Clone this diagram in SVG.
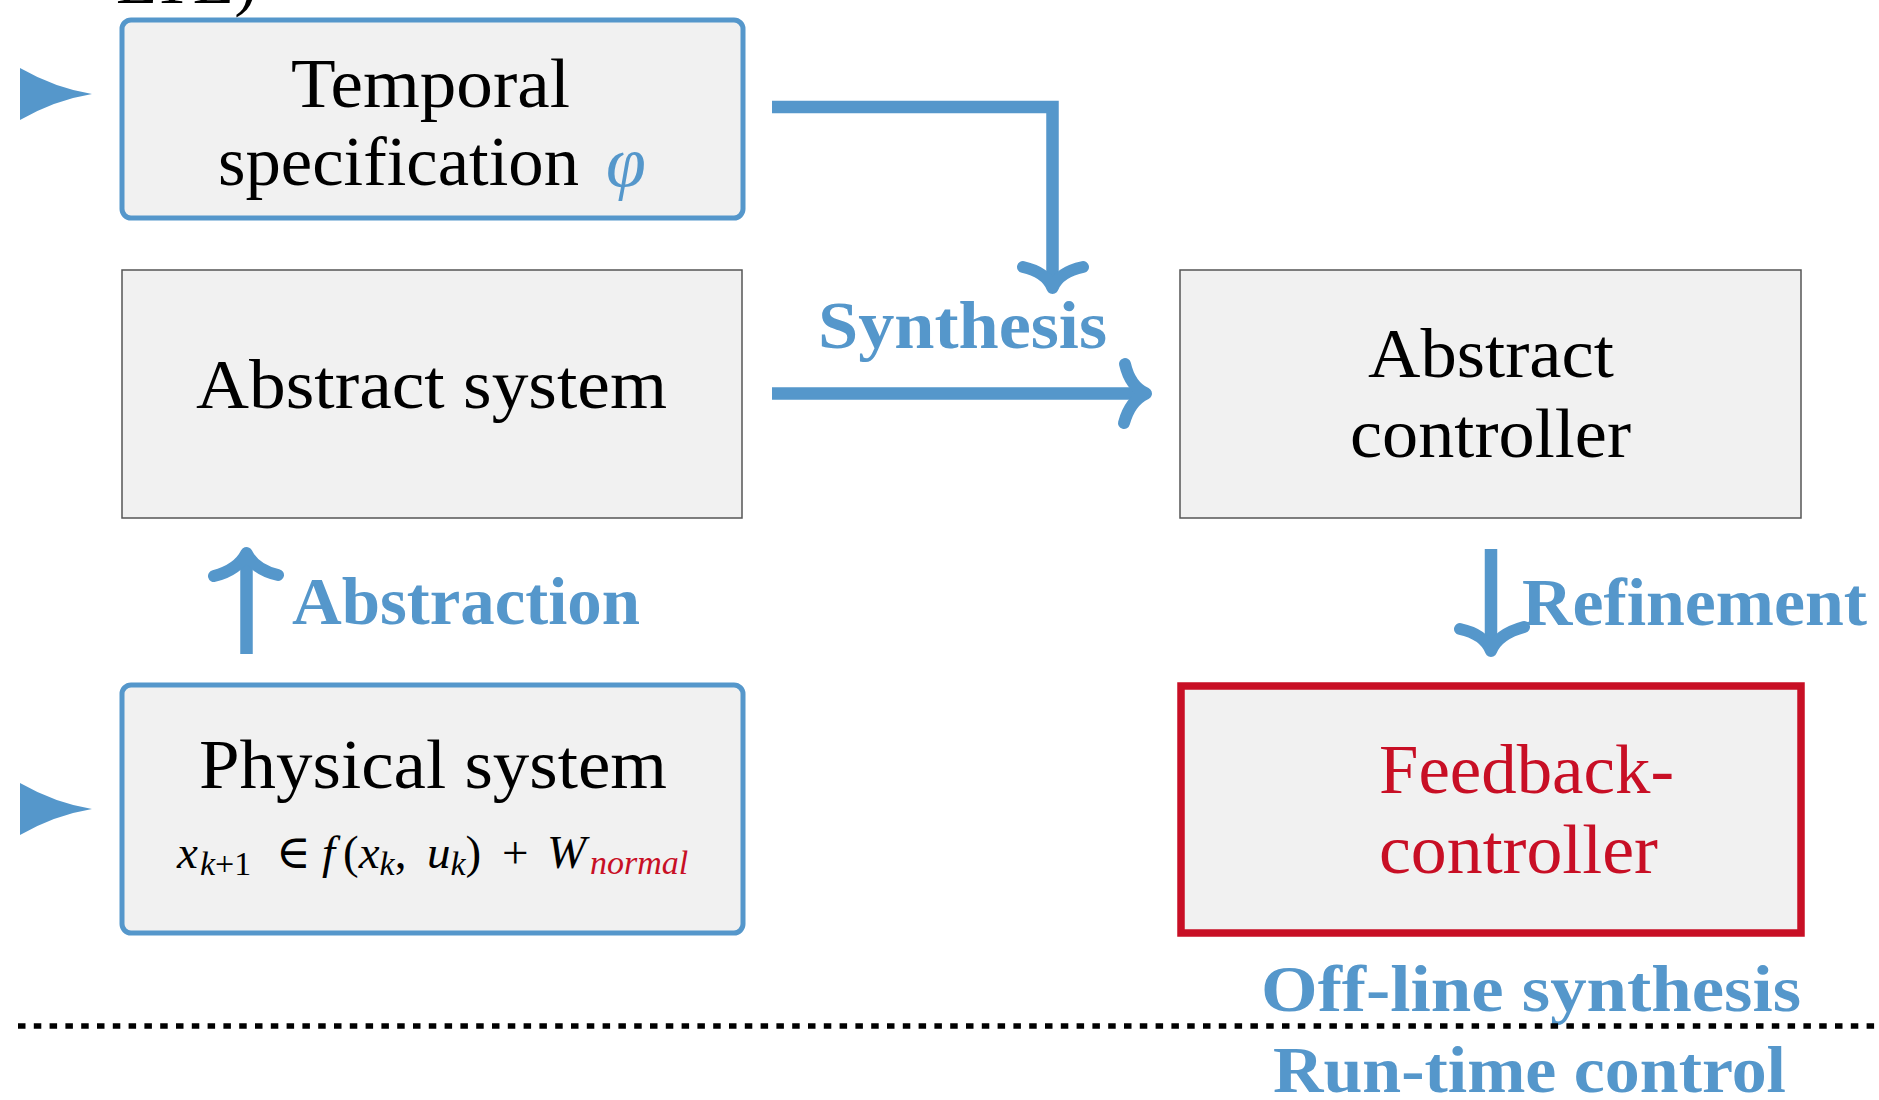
<svg xmlns="http://www.w3.org/2000/svg" width="1879" height="1100" viewBox="0 0 1879 1100">
<style>
  .t { font-family: "Liberation Serif", "DejaVu Serif", serif; fill: #000; }
  .box { fill: #f1f1f1; stroke: #555; stroke-width: 1.5; }
  .bbox { fill: #f1f1f1; stroke: #5597cb; stroke-width: 5; }
  .rbox { fill: #f1f1f1; stroke: #c80f25; stroke-width: 7.5; }
  .lbl { font-family: "Liberation Serif", "DejaVu Serif", serif; font-weight: bold; fill: #5597cb; }
  .conn { fill: none; stroke: #5597cb; stroke-width: 12.5; }
  .head { fill: none; stroke: #5597cb; stroke-width: 12; stroke-linecap: round; stroke-linejoin: round; }
  .tri { fill: #5597cb; }
</style>
<rect width="1879" height="1100" fill="#fff"/>

<text class="t" x="257" y="3" font-size="68" text-anchor="end">LTL)</text>

<g id="temporal-specification">
  <path class="tri" d="M20,68 Q55,88 92,94 Q55,100 20,120 Z"/>
  <rect class="bbox" x="122" y="20" width="621" height="198" rx="9"/>
  <text class="t" x="291" y="107" font-size="70" textLength="279" lengthAdjust="spacingAndGlyphs">Temporal</text>
  <text class="t" x="218" y="185" font-size="70" textLength="361" lengthAdjust="spacingAndGlyphs">specification</text>
  <text class="t" x="606" y="186" font-size="72" font-style="italic" style="fill:#5597cb">φ</text>
</g>

<g id="abstract-system">
  <rect class="box" x="122" y="270" width="620" height="248"/>
  <text class="t" x="196" y="408" font-size="70" textLength="471" lengthAdjust="spacingAndGlyphs">Abstract system</text>
</g>

<g id="abstract-controller">
  <rect class="box" x="1180" y="270" width="621" height="248"/>
  <text class="t" x="1368" y="377" font-size="70" textLength="246" lengthAdjust="spacingAndGlyphs">Abstract</text>
  <text class="t" x="1350" y="457" font-size="70" textLength="281" lengthAdjust="spacingAndGlyphs">controller</text>
</g>

<g id="physical-system">
  <path class="tri" d="M20,783 Q55,803 92,809 Q55,815 20,835 Z"/>
  <rect class="bbox" x="122" y="685" width="621" height="248" rx="9"/>
  <text class="t" x="199" y="788" font-size="70" textLength="468" lengthAdjust="spacingAndGlyphs">Physical system</text>
  <text class="t" font-size="47" y="868">
    <tspan x="177" font-style="italic">x</tspan><tspan x="200" y="875" font-size="34" font-style="italic">k</tspan><tspan y="875" font-size="34">+1</tspan><tspan x="276" y="868">∈</tspan><tspan x="322" font-style="italic">f</tspan><tspan x="343">(</tspan><tspan font-style="italic">x</tspan><tspan y="875" font-size="34" font-style="italic">k</tspan><tspan y="868">,</tspan><tspan x="427" font-style="italic">u</tspan><tspan y="875" font-size="34" font-style="italic">k</tspan><tspan y="868">)</tspan><tspan x="502">+</tspan><tspan x="547" font-style="italic">W</tspan><tspan x="590" y="874" font-size="34" font-style="italic" style="fill:#c80f25">normal</tspan>
  </text>
</g>

<g id="feedback-controller">
  <rect class="rbox" x="1181" y="686" width="620" height="247"/>
  <text class="t" x="1379" y="793" font-size="70" textLength="295" lengthAdjust="spacingAndGlyphs" style="fill:#c80f25">Feedback-</text>
  <text class="t" x="1379" y="873" font-size="70" textLength="279" lengthAdjust="spacingAndGlyphs" style="fill:#c80f25">controller</text>
</g>

<g id="connectors">
  <path class="conn" d="M772,107 H1052.5 V286"/>
  <path class="head" d="M1023,267 Q1046,272 1052.5,288 Q1059,272 1083,267"/>
  <path class="conn" d="M772,393.5 H1142"/>
  <path class="head" d="M1125,364 Q1130,386 1146,393.5 Q1130,401 1124,423"/>
  <path class="conn" d="M246.5,654 V556"/>
  <path class="head" d="M214,576 Q238,570 246.5,553 Q255,570 278,575"/>
  <path class="conn" d="M1491,549 V648"/>
  <path class="head" d="M1460,629 Q1484,634 1491,651 Q1498,634 1524,627"/>
</g>

<g id="labels">
  <text class="lbl" x="818" y="348" font-size="68" textLength="289" lengthAdjust="spacingAndGlyphs">Synthesis</text>
  <text class="lbl" x="292" y="624" font-size="68" textLength="348" lengthAdjust="spacingAndGlyphs">Abstraction</text>
  <text class="lbl" x="1522" y="625" font-size="68" textLength="345" lengthAdjust="spacingAndGlyphs">Refinement</text>
  <text class="lbl" x="1261" y="1011" font-size="66" textLength="540" lengthAdjust="spacingAndGlyphs">Off-line synthesis</text>
  <text class="lbl" x="1273" y="1092" font-size="66" textLength="513" lengthAdjust="spacingAndGlyphs">Run-time control</text>
</g>

<line x1="18" y1="1026" x2="1879" y2="1026" stroke="#000" stroke-width="5.5" stroke-dasharray="7.5 8.3"/>
</svg>
